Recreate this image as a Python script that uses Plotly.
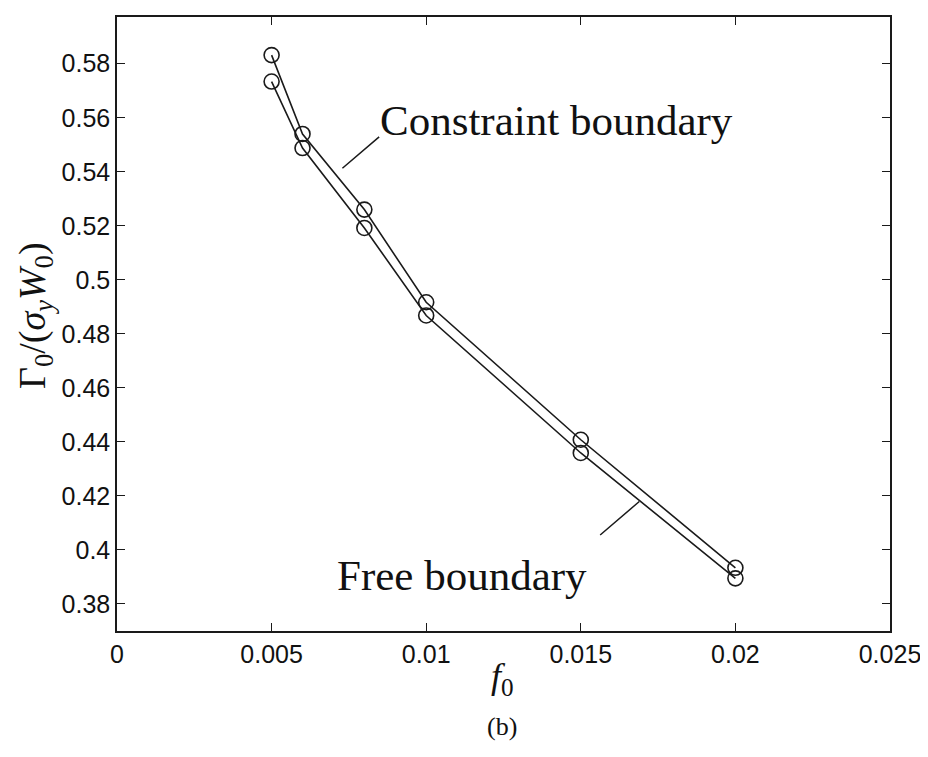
import plotly.graph_objects as go

f0 = [0.005, 0.006, 0.008, 0.010, 0.015, 0.020]
constraint = [0.5832, 0.5540, 0.5260, 0.4917, 0.4408, 0.3934]
free = [0.5734, 0.5488, 0.5192, 0.4868, 0.4359, 0.3895]

x_ticks = [0, 0.005, 0.01, 0.015, 0.02, 0.025]
x_tick_text = ["0", "0.005", "0.01", "0.015", "0.02", "0.025"]
y_ticks = [0.38, 0.40, 0.42, 0.44, 0.46, 0.48, 0.50, 0.52, 0.54, 0.56, 0.58]
y_tick_text = ["0.38", "0.4", "0.42", "0.44", "0.46", "0.48", "0.5", "0.52", "0.54", "0.56", "0.58"]

line_col = "#1a1a1a"
fig = go.Figure()
for ys in (constraint, free):
    fig.add_trace(go.Scatter(
        x=f0, y=ys, mode="lines+markers",
        line=dict(color=line_col, width=1.6),
        marker=dict(symbol="circle-open", size=15, color=line_col, line=dict(width=1.6)),
        showlegend=False, hoverinfo="skip"))

serif = "Liberation Serif, Times New Roman, serif"
fig.add_annotation(x=0.00729, y=0.5413, ax=0.008527, ay=0.5534, axref="x", ayref="y",
                   xref="x", yref="y", text="", showarrow=True, arrowhead=0,
                   arrowwidth=1.5, arrowcolor=line_col)
fig.add_annotation(x=0.016892, y=0.41794, ax=0.015578, ay=0.40505, axref="x", ayref="y",
                   xref="x", yref="y", text="", showarrow=True, arrowhead=0,
                   arrowwidth=1.5, arrowcolor=line_col)
fig.add_annotation(x=0.00843, y=0.5590, xref="x", yref="y", text="Constraint boundary",
                   showarrow=False, xanchor="left", yanchor="middle",
                   font=dict(family=serif, size=43, color="#111"))
fig.add_annotation(x=0.01528, y=0.3907, xref="x", yref="y", text="Free boundary",
                   showarrow=False, xanchor="right", yanchor="middle",
                   font=dict(family=serif, size=43, color="#111"))
# axis titles
fig.add_annotation(x=-0.106, y=0.513, xref="paper", yref="paper", xanchor="center", yanchor="middle",
                   text="Γ<sub>0</sub>/(<i>σ<sub>y</sub>W</i><sub>0</sub>)", textangle=-90,
                   showarrow=False, font=dict(family=serif, size=38, color="#111"))
fig.add_annotation(x=0.4987, y=-0.078, xref="paper", yref="paper", xanchor="center", yanchor="middle",
                   text="<i>f</i><sub>0</sub>", showarrow=False,
                   font=dict(family=serif, size=36, color="#111"))
fig.add_annotation(x=0.4987, y=-0.156, xref="paper", yref="paper", xanchor="center", yanchor="middle",
                   text="(b)", showarrow=False,
                   font=dict(family=serif, size=26, color="#111"))

axis_common = dict(showgrid=False, zeroline=False, showline=True, linecolor=line_col,
                   linewidth=1.5, mirror="ticks", ticks="inside", ticklen=8,
                   tickwidth=1.3, tickcolor=line_col,
                   tickfont=dict(family="Liberation Sans, Arial, sans-serif", size=25, color="#111"))
fig.update_xaxes(range=[0, 0.025], tickvals=x_ticks, ticktext=x_tick_text, **axis_common)
fig.update_yaxes(range=[0.37, 0.5973], tickvals=y_ticks, ticktext=y_tick_text, **axis_common)

fig.update_layout(width=920, height=749, margin=dict(l=109, r=37, t=7, b=126),
                  plot_bgcolor="white", paper_bgcolor="white")
fig.write_html("out.html")
